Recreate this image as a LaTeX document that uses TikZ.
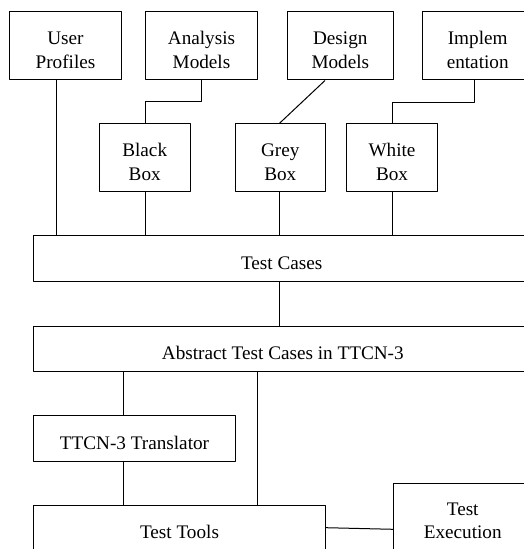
\documentclass[tikz,border=0pt]{standalone}
\usepackage{fontspec}
\setmainfont{Liberation Serif}
\begin{document}
\fontsize{19.2bp}{23.4bp}\selectfont
\begin{tikzpicture}[line width=1bp,line join=bevel,
  box/.style={draw,rectangle,inner sep=0pt,align=center,
    execute at begin node={\rule{0pt}{21bp}}},
  twoline/.style={execute at begin node={\rule{0pt}{44.4bp}}}]
%%
\useasboundingbox (0bp,0bp) rectangle (524bp,549bp);
\clip (0bp,0bp) rectangle (524bp,549bp);
%
\node (up) at (65.5bp,503bp) [box,twoline,minimum width=112.4bp,minimum height=68bp] {User\\Profiles};
  \node (am) at (201.5bp,503bp) [box,twoline,minimum width=111.6bp,minimum height=68bp] {Analysis\\Models};
  \node (dm) at (340.3bp,503bp) [box,twoline,minimum width=106bp,minimum height=68bp] {Design\\Models};
  \node (im) at (477.7bp,503bp) [box,twoline,minimum width=110bp,minimum height=68bp] {Implem\\entation};
  \node (bb) at (144.7bp,391bp) [box,twoline,minimum width=90.7bp,minimum height=68bp] {Black\\Box};
  \node (gb) at (280.3bp,391bp) [box,twoline,minimum width=90bp,minimum height=68bp] {Grey\\Box};
  \node (wb) at (392bp,391bp) [box,twoline,minimum width=90.6bp,minimum height=68bp] {White\\Box};
  \node (tc) at (281.7bp,290.4bp) [box,minimum width=496bp,minimum height=46.7bp] {Test Cases};
  \node (abs) at (282.8bp,199.8bp) [box,minimum width=498.3bp,minimum height=45bp] {Abstract Test Cases in TTCN-3};
  \node (tr) at (134.5bp,110.2bp) [box,minimum width=201.6bp,minimum height=46.3bp] {TTCN-3 Translator};
  \node (tt) at (179.5bp,20.5bp) [box,minimum width=291.6bp,minimum height=45.6bp] {Test Tools};
  \node (te) at (462.7bp,32.2bp) [box,twoline,minimum width=138.7bp,minimum height=65.6bp] {Test\\Execution};
%
  \draw ([xshift=-9.5bp]up.south) -- ([xshift=-9.5bp]up.south |- tc.north);
  \draw (am.south) -- ++(0bp,-20.7bp) -| ([xshift=1bp]bb.north);
  \draw ([xshift=-15.3bp]dm.south) -- ([xshift=-1bp]gb.north);
  \draw ([xshift=-3.4bp]im.south) -- ++(0bp,-22bp) -| (wb.north);
  \draw ([xshift=1bp]bb.south) -- ([xshift=1bp]bb.south |- tc.north);
  \draw ([xshift=-1bp]gb.south) -- ([xshift=-1bp]gb.south |- tc.north);
  \draw (wb.south) -- (wb.south |- tc.north);
  \draw ([xshift=-2.4bp]tc.south) -- ([xshift=-2.4bp]tc.south |- abs.north);
  \draw ([xshift=-10.8bp]tr.north) -- ([xshift=-10.8bp]tr.north |- abs.south);
  \draw ([xshift=77.5bp]tt.north) -- ([xshift=77.5bp]tt.north |- abs.south);
  \draw ([xshift=-10.8bp]tr.south) -- ([xshift=-10.8bp]tr.south |- tt.north);
  \draw ([yshift=0.8bp]tt.east) -- ([yshift=-12.5bp]te.west);
%
\end{tikzpicture}
\end{document}
